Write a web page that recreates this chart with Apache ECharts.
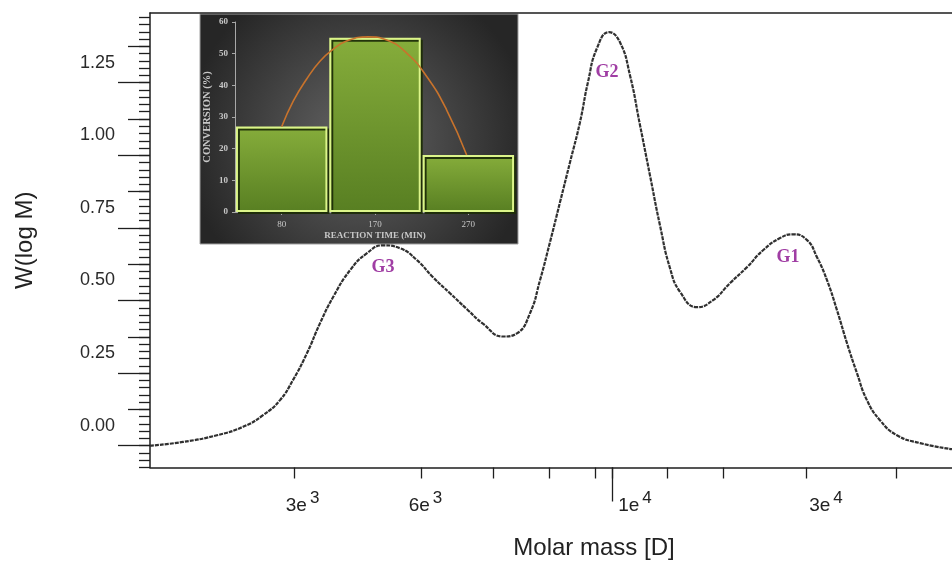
<!DOCTYPE html>
<html>
<head>
<meta charset="utf-8">
<script src="https://cdn.jsdelivr.net/npm/echarts@6/dist/echarts.min.js"></script>
<style>
html,body{margin:0;padding:0;background:#fff}
#main{width:952px;height:561px}
</style>
</head>
<body>
<div id="main"></div>
<script>
// GPC trace: molar mass [D] vs W(log M)
var molarMass = [1570, 1821, 2121, 2385, 2610, 2817, 2986, 3181, 3373, 3575,
    3859, 4166, 4477, 4831, 5215, 5606, 6051, 6531, 7018, 7680,
    8177, 8670, 9070, 9486, 9922, 10380, 10856, 11253, 11718, 12368,
    12995, 13595, 14219, 14872, 15555, 16275, 17022, 18377, 19747, 21320,
    23010, 24727, 26693, 28290, 30140, 31520, 32970, 34480, 36070, 37720,
    39450, 41830, 45160, 50100, 57840];
var wLogM = [0.000, 0.013, 0.036, 0.065, 0.105, 0.157, 0.226, 0.319, 0.422, 0.511,
    0.604, 0.663, 0.690, 0.680, 0.639, 0.580, 0.525, 0.470, 0.420, 0.376,
    0.387, 0.456, 0.570, 0.701, 0.838, 0.976, 1.114, 1.252, 1.369, 1.424,
    1.389, 1.275, 1.104, 0.931, 0.759, 0.611, 0.530, 0.477, 0.501, 0.560,
    0.615, 0.673, 0.715, 0.728, 0.708, 0.649, 0.570, 0.467, 0.353, 0.250,
    0.157, 0.088, 0.036, 0.009, -0.012];

// x axis ticks and labels as placed in the figure
var xTickValues = [3000, 5311, 7340, 9443, 11614, 12540, 16056, 20654, 30000, 44963];
var xDecadeTick = [12540];
var xLabelValues = [3035, 5276, 13535, 31950];
var xLabelTexts = [['3e', '3'], ['6e', '3'], ['1e', '4'], ['3e', '4']];

var yMajorTicks = [0, 0.25, 0.5, 0.75, 1.0, 1.25];
var yMidTicks = [-0.125, 0.125, 0.375, 0.625, 0.875, 1.125, 1.375];

// peak names
var peakNames = ['G3', 'G2', 'G1'];
var peakMass = [4477, 12368, 28290];
var peakW = [0.690, 1.424, 0.728];

// inset: conversion vs reaction time
var reactionTime = ['80', '170', '270'];
var conversion = [27, 55, 18];
var trendPos = [0, 0.124, 0.268, 0.41, 0.553, 0.696, 0.928, 1.125, 1.339, 1.554, 1.768, 1.982];
var trendVal = [26.9, 35.0, 42.0, 47.6, 51.4, 54.0, 55.3, 54.3, 50.2, 42.8, 32.2, 18.0];

var yMin = -0.075, yMax = 1.49;
var yMinorTicks = [];
for (var t = -75; t <= 1475; t += 25) yMinorTicks.push(t / 1000);

var axisColor = '#1e1e1e';
var insetText = '#c8c8c8';
var insetFont = '"Liberation Serif", "DejaVu Serif", serif';
var sansFont = '"Liberation Sans", Arial, sans-serif';
var narrowFont = '"Liberation Sans Narrow", "Liberation Sans", sans-serif';

function xLabel(v) {
    var best = 0;
    for (var i = 1; i < xLabelValues.length; i++) {
        if (Math.abs(Math.log(v / xLabelValues[i])) < Math.abs(Math.log(v / xLabelValues[best]))) best = i;
    }
    return '{p|}{b|' + xLabelTexts[best][0] + '}{s|' + xLabelTexts[best][1] + '}';
}

var peakMarks = [];
var peakOffsets = [[0, 22], [-2, 40], [-5, 23]];
for (var i = 0; i < peakNames.length; i++) {
    peakMarks.push({
        name: peakNames[i],
        coord: [peakMass[i], peakW[i]],
        label: {offset: peakOffsets[i]}
    });
}

// tick-only helper axes (no line, no labels)
function tickAxis(kind, pos, ticks, len) {
    var a = {
        type: kind, gridIndex: 0, position: pos,
        axisLine: {show: false, onZero: false},
        axisTick: {show: true, customValues: ticks, length: len, lineStyle: {color: axisColor, width: 1.3}},
        axisLabel: {show: false}, splitLine: {show: false}, minorTick: {show: false}
    };
    if (kind == 'log') { a.min = 1570; a.max = 57840; } else { a.min = yMin; a.max = yMax; }
    return a;
}

var myChart = echarts.init(document.getElementById('main'));
option = {
    animation: false,
    backgroundColor: '#fff',
    graphic: [{
        type: 'rect',
        z: -10,
        shape: {x: 200, y: 14, width: 318, height: 230},
        style: {
            fill: {
                type: 'radial', x: 0.5, y: 0.55, r: 0.75,
                colorStops: [{offset: 0, color: '#656565'}, {offset: 1, color: '#262626'}]
            },
            stroke: '#a0a0a0',
            lineWidth: 1
        }
    }],
    grid: [
        {left: 150, top: 13, right: 0, bottom: 93.5, outerBoundsMode: 'none'},
        {left: 235, top: 22, width: 280, height: 190, outerBoundsMode: 'none'}
    ],
    xAxis: [
        {
            type: 'log', gridIndex: 0, position: 'bottom', min: 1570, max: 57840,
            axisLine: {show: true, onZero: false, lineStyle: {color: axisColor, width: 1.5}},
            axisTick: {show: true, customValues: xTickValues, length: 11, lineStyle: {color: axisColor, width: 1.3}},
            minorTick: {show: false},
            splitLine: {show: false},
            axisLabel: {
                show: true, customValues: xLabelValues, margin: 22,
                formatter: xLabel,
                rich: {
                    p: {width: 12},
                    b: {fontFamily: narrowFont, fontSize: 19, color: '#222'},
                    s: {fontFamily: narrowFont, fontSize: 17, color: '#222', padding: [0, 0, 16, 3]}
                }
            },
            name: 'Molar mass [D]', nameLocation: 'middle', nameGap: 69,
            nameTextStyle: {fontFamily: sansFont, fontSize: 24, color: '#222', padding: [0, 0, 0, 86]}
        },
        tickAxis('log', 'bottom', xDecadeTick, 34),
        {
            type: 'value', gridIndex: 0, position: 'top', min: 0, max: 1,
            axisLine: {show: true, onZero: false, lineStyle: {color: axisColor, width: 1.5}},
            axisTick: {show: false}, axisLabel: {show: false}, splitLine: {show: false}
        },
        {
            type: 'category', gridIndex: 1, position: 'bottom', data: reactionTime,
            axisLine: {show: true, onZero: false, lineStyle: {color: '#a8a8a8', width: 1}},
            axisTick: {show: true, alignWithLabel: true, length: 3, lineStyle: {color: '#a8a8a8'}},
            axisLabel: {margin: 8, fontFamily: insetFont, fontSize: 9, color: insetText},
            name: 'REACTION TIME (MIN)', nameLocation: 'middle', nameGap: 19,
            nameTextStyle: {fontFamily: insetFont, fontSize: 9, fontWeight: 'bold', color: insetText}
        },
        {
            type: 'value', gridIndex: 1, min: -0.5, max: 2.5, show: false
        }
    ],
    yAxis: [
        {
            type: 'value', gridIndex: 0, position: 'left', min: yMin, max: yMax,
            axisLine: {show: true, onZero: false, lineStyle: {color: axisColor, width: 1.5}},
            axisTick: {show: true, customValues: yMajorTicks, length: 32, lineStyle: {color: axisColor, width: 1.3}},
            splitLine: {show: false},
            axisLabel: {
                show: true, customValues: yMajorTicks, margin: 35,
                verticalAlign: 'bottom', lineHeight: 40,
                formatter: function (v) { return v.toFixed(2); },
                fontFamily: sansFont, fontSize: 18, color: '#2a2a2a'
            },
            name: 'W(log M)', nameLocation: 'middle', nameGap: 113,
            nameTextStyle: {fontFamily: sansFont, fontSize: 24, color: '#222'}
        },
        tickAxis('value', 'left', yMidTicks, 22),
        tickAxis('value', 'left', yMinorTicks, 11),
        {
            type: 'value', gridIndex: 1, position: 'left', min: 0, max: 60, interval: 10,
            axisLine: {show: true, onZero: false, lineStyle: {color: '#a8a8a8', width: 1}},
            axisTick: {show: true, length: 3, lineStyle: {color: '#a8a8a8'}},
            splitLine: {show: false},
            axisLabel: {margin: 7, fontFamily: insetFont, fontSize: 9, fontWeight: 'bold', color: insetText},
            name: 'CONVERSION (%)', nameLocation: 'middle', nameGap: 22,
            nameTextStyle: {fontFamily: insetFont, fontSize: 10.5, fontWeight: 'bold', color: insetText}
        }
    ],
    series: [
        {
            type: 'line', xAxisIndex: 0, yAxisIndex: 0, z: 3,
            data: molarMass.map(function (m, i) { return [m, wLogM[i]]; }),
            smooth: 0.5, symbol: 'none',
            lineStyle: {color: '#303030', width: 2.2, type: [4, 1]},
            markPoint: {
                symbol: 'circle', symbolSize: 0,
                label: {
                    show: true, position: 'inside', formatter: '{b}',
                    fontFamily: '"Liberation Serif", "Times New Roman", serif',
                    fontSize: 18, fontWeight: 'bold', color: '#a03ea4'
                },
                data: peakMarks
            }
        },
        {
            type: 'bar', xAxisIndex: 3, yAxisIndex: 3, z: 3,
            data: conversion, barCategoryGap: '2%',
            itemStyle: {
                color: {
                    type: 'linear', x: 0, y: 0, x2: 0, y2: 1,
                    colorStops: [{offset: 0, color: '#86ad3b'}, {offset: 1, color: '#587f22'}]
                },
                borderColor: '#dcf58a', borderWidth: 2,
                shadowColor: 'rgba(30,45,8,0.95)', shadowOffsetX: 2, shadowOffsetY: 2, shadowBlur: 0
            }
        },
        {
            type: 'line', xAxisIndex: 4, yAxisIndex: 3, z: 4,
            data: trendPos.map(function (p, i) { return [p, trendVal[i]]; }),
            smooth: true, symbol: 'none',
            lineStyle: {color: '#c8732c', width: 1.6}
        }
    ]
};
myChart.setOption(option);
</script>
</body>
</html>
